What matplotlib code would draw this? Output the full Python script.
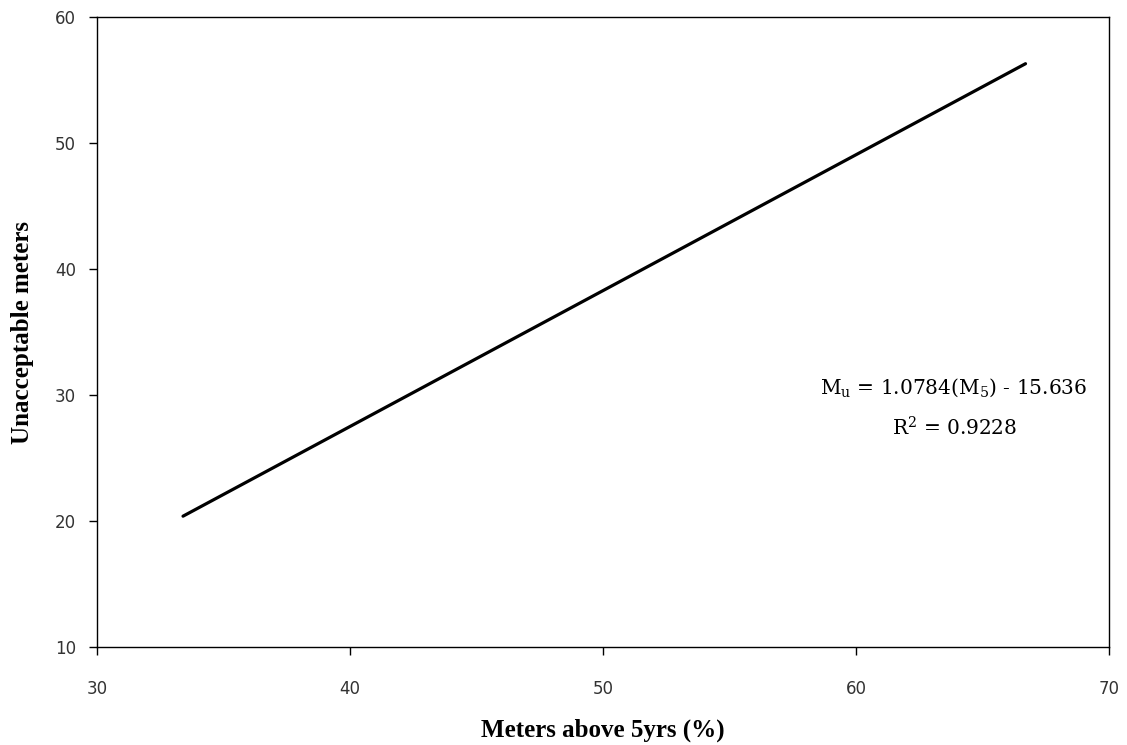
import numpy as np
import matplotlib
matplotlib.use("Agg")
import matplotlib.pyplot as plt

# Linear fit: unacceptable meters vs meters older than 5 years
slope = 1.0784
intercept = -15.636
r2 = 0.9228
x_range = [33.4, 66.7]

x_ticks = [30, 40, 50, 60, 70]
y_ticks = [10, 20, 30, 40, 50, 60]

x = np.array(x_range)
y = slope * x + intercept

W, H = 1127, 745
fig = plt.figure(figsize=(W / 100, H / 100), dpi=100)
# plot area in pixels: left 97, right 1109, top 17, bottom 647
ax = fig.add_axes([97 / W, 1 - 647 / H, (1109 - 97) / W, (647 - 17) / H])

ax.plot(x, y, color="black", linewidth=2.3, solid_capstyle="round")

ax.set_xlim(30, 70)
ax.set_ylim(10, 60)
ax.set_xticks(x_ticks)
ax.set_yticks(y_ticks)
ax.tick_params(direction="out", length=6, width=1, colors="black",
               labelsize=12, labelcolor="#333333")
ax.tick_params(axis="y", pad=9)
ax.tick_params(axis="x", pad=18)
for s in ax.spines.values():
    s.set_linewidth(1)
    s.set_color("black")

for lbl in ax.get_xticklabels() + ax.get_yticklabels():
    lbl.set_fontfamily("DejaVu Sans")

ax.set_xlabel("Meters above 5yrs (%)", fontfamily="Liberation Serif",
              fontweight="bold", fontsize=18)
ax.set_ylabel("Unacceptable meters", fontfamily="Liberation Serif",
              fontweight="bold", fontsize=18)
ax.xaxis.set_label_coords(0.5, -0.114)
ax.yaxis.set_label_coords(-0.062, 0.5)

# fitted equation and R^2 annotation
eq = r"M$_\mathregular{u}$ = 1.0784(M$_\mathregular{5}$) - 15.636"
ax.text(0.847, 0.411, eq, transform=ax.transAxes, ha="center", va="center",
        fontfamily="DejaVu Serif", fontsize=14.5)
ax.text(0.847, 0.348, r"R$^\mathregular{2}$ = %.4f" % r2, transform=ax.transAxes,
        ha="center", va="center", fontfamily="DejaVu Serif", fontsize=14.5)

fig.savefig("out.png", dpi=100, facecolor="white")
